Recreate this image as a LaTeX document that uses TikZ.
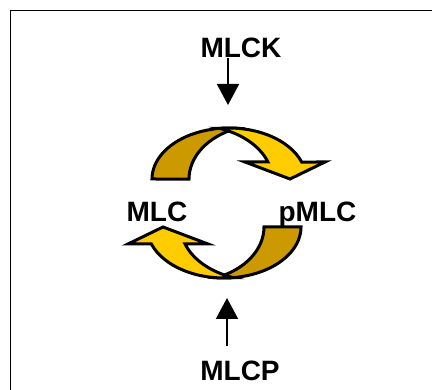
\documentclass[tikz,border=0pt]{standalone}
\usepackage{fontspec}
\setmainfont{Liberation Sans}
\usetikzlibrary{arrows.meta}
\definecolor{darkgold}{HTML}{CC9900}
\definecolor{lightgold}{HTML}{FFCC00}
\begin{document}
\begin{tikzpicture}[x=1pt,y=-1pt,
  lbl/.style={font=\fontsize{28}{30}\selectfont\bfseries, inner sep=0pt, anchor=base},
  body/.style={draw=black, line width=3pt, line join=miter},
  conn/.style={line width=2pt, -{Triangle[width=22pt,length=21pt]}}]
\useasboundingbox (0,0) rectangle (432,390);
\fill[white] (0,0) rectangle (432,390);
\draw[line width=1.6pt] (10.5,10.5) rectangle (450,410);
\foreach \a in {0,180}{
  \begin{scope}[rotate around={\a:(226.5,203)}]
    \draw[body, fill=darkgold] (152,179)
      arc[start angle=180,end angle=276,x radius=77,y radius=51]
      arc[start angle=250,end angle=180,x radius=73,y radius=54] -- cycle;
    \draw[body, fill=lightgold] (219.8,128.4)
      arc[start angle=263.1,end angle=340.5,x radius=77,y radius=51]
      -- (325,162) -- (290,179) -- (245,162) -- (267.9,162)
      arc[start angle=341.6,end angle=290.3,x radius=80,y radius=54] -- cycle;
  \end{scope}}
\node[lbl] (mlck) at (241,58) {MLCK};
\node[lbl] (mlcp) at (240,381) {MLCP};
\node[lbl] (mlc) at (157,222) {MLC};
\node[lbl] (pmlc) at (317.5,222) {pMLC};
\coordinate (k1) at (228,58);
\coordinate (k2) at (228,105);
\coordinate (p1) at (227,346);
\coordinate (p2) at (227,298);
\draw[conn] (k1) -- (k2);
\draw[conn] (p1) -- (p2);
\end{tikzpicture}
\end{document}
